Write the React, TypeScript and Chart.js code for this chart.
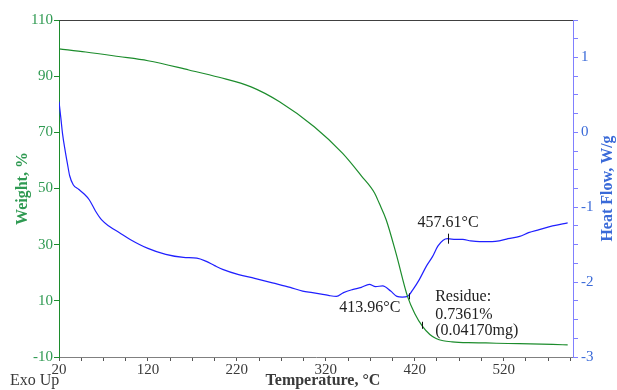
import React, { useEffect, useRef } from "react";
import { Chart, registerables } from "chart.js";
Chart.register(...registerables);

// Weight curve (TGA), temperature in °C vs weight in %
const weightT = [20, 50, 87, 120, 166, 200, 236, 268, 307, 339, 360, 375, 380, 388, 399, 412, 420, 429, 437, 444, 452, 462, 480, 500, 525, 550, 575, 592];
const weightPct = [99.7, 98.6, 97.0, 95.5, 92.2, 89.6, 86.2, 80.9, 72.0, 62.5, 54.5, 48.3, 44.8, 38.8, 26.9, 11.5, 5.5, 0.8, -2.0, -3.4, -4.2, -4.6, -4.9, -5.0, -5.2, -5.3, -5.5, -5.7];

// Heat flow curve (DSC), temperature in °C vs W/g
const heatT = [20, 22, 24, 27, 29.5, 32, 36, 42, 48, 54, 61, 68, 76, 88, 100, 120, 140, 160, 175, 185, 195, 204, 222, 240, 260, 280, 294, 305, 315, 324, 332, 340, 350, 360, 369, 376, 384, 393, 400, 406, 412, 418, 425, 433, 440, 446, 452, 457, 466, 474, 483, 493, 507, 515, 525, 538, 548, 560, 575, 592];
const heatFlow = [0.41, 0.2, -0.02, -0.25, -0.42, -0.58, -0.7, -0.76, -0.82, -0.9, -1.05, -1.17, -1.25, -1.34, -1.43, -1.55, -1.63, -1.67, -1.68, -1.72, -1.78, -1.83, -1.9, -1.95, -2.01, -2.07, -2.12, -2.14, -2.16, -2.18, -2.19, -2.14, -2.1, -2.07, -2.03, -2.06, -2.05, -2.12, -2.19, -2.2, -2.19, -2.1, -1.97, -1.79, -1.66, -1.52, -1.44, -1.42, -1.43, -1.43, -1.45, -1.46, -1.46, -1.45, -1.42, -1.39, -1.34, -1.3, -1.25, -1.21];

const xTickLabels = [20, 120, 220, 320, 420, 520];
const weightTicks = [-10, 10, 30, 50, 70, 90, 110];
const heatTickLabels = [-3, -2, -1, 0, 1];

const FONT = "'Liberation Serif', 'Times New Roman', serif";
const GREEN_LINE = "#1c8c2c";
const GREEN_TEXT = "#2f9a52";
const BLUE_LINE = "#2020ff";
const BLUE_AXIS = "#8080ff";
const BLUE_TEXT = "#3a6ad8";
const DARK = "#3a3a3a";

export default function App() {
  const ref = useRef<HTMLCanvasElement | null>(null);

  useEffect(() => {
    document.body.style.margin = "0";
    const canvas = ref.current!;
    const overlay = {
      id: "overlay",
      afterDraw(chart: any) {
        const { ctx, chartArea: a, scales } = chart;
        const x = scales.x, yW = scales.yW, yH = scales.yH;
        ctx.save();
        // top frame line
        ctx.strokeStyle = "#404040";
        ctx.lineWidth = 1;
        ctx.beginPath();
        ctx.moveTo(a.left, Math.round(a.top) + 0.5);
        ctx.lineTo(a.right, Math.round(a.top) + 0.5);
        ctx.stroke();

        // axis titles
        ctx.textAlign = "center";
        ctx.textBaseline = "middle";
        ctx.font = `bold 16px ${FONT}`;
        ctx.fillStyle = GREEN_TEXT;
        ctx.save();
        ctx.translate(23, (a.top + a.bottom) / 2);
        ctx.rotate(-Math.PI / 2);
        ctx.fillText("Weight, %", 0, 0);
        ctx.restore();
        ctx.fillStyle = BLUE_TEXT;
        ctx.save();
        ctx.translate(608, (a.top + a.bottom) / 2);
        ctx.rotate(-Math.PI / 2);
        ctx.fillText("Heat Flow, W/g", 0, 0);
        ctx.restore();
        ctx.fillStyle = DARK;
        ctx.fillText("Temperature, °C", (a.left + a.right) / 2 + 7, 381);
        ctx.font = `16px ${FONT}`;
        ctx.textAlign = "left";
        ctx.fillText("Exo Up", 10, 381);

        // annotations
        ctx.font = `16px ${FONT}`;
        ctx.fillStyle = "#222";
        ctx.textAlign = "center";
        ctx.fillText("457.61°C", x.getPixelForValue(457.61), yH.getPixelForValue(-1.207));
        ctx.fillText("413.96°C", x.getPixelForValue(369.5), yH.getPixelForValue(-2.34));
        ctx.textAlign = "left";
        const rx = x.getPixelForValue(443);
        ctx.fillText("Residue:", rx, yW.getPixelForValue(11.3));
        ctx.fillText("0.7361%", rx, yW.getPixelForValue(5.2));
        ctx.fillText("(0.04170mg)", rx, yW.getPixelForValue(-0.8));

        // marker ticks on curves
        ctx.strokeStyle = "#111";
        ctx.lineWidth = 1;
        const vt = (px: number, py: number, h: number) => {
          ctx.beginPath();
          ctx.moveTo(Math.round(px) + 0.5, py - h);
          ctx.lineTo(Math.round(px) + 0.5, py + h);
          ctx.stroke();
        };
        vt(x.getPixelForValue(457.61), yH.getPixelForValue(-1.42), 5);
        vt(x.getPixelForValue(413.96), yH.getPixelForValue(-2.19), 3);
        vt(x.getPixelForValue(428.5), yW.getPixelForValue(1.3), 3.5);
        ctx.restore();
      },
    };

    const chart = new Chart(canvas, {
      type: "line",
      data: {
        datasets: [
          {
            label: "Weight",
            data: weightT.map((t, i) => ({ x: t, y: weightPct[i] })),
            yAxisID: "yW",
            borderColor: GREEN_LINE,
            borderWidth: 1.2,
            pointRadius: 0,
            cubicInterpolationMode: "monotone",
          },
          {
            label: "Heat Flow",
            data: heatT.map((t, i) => ({ x: t, y: heatFlow[i] })),
            yAxisID: "yH",
            borderColor: BLUE_LINE,
            borderWidth: 1.2,
            pointRadius: 0,
            cubicInterpolationMode: "monotone",
          },
        ],
      },
      options: {
        animation: false,
        responsive: false,
        layout: { padding: { top: 20, left: 0, right: 0, bottom: 0 } },
        plugins: { legend: { display: false }, tooltip: { enabled: false } },
        scales: {
          x: {
            type: "linear",
            min: 20,
            max: 598,
            afterFit: (s: any) => { s.height = 33; },
            afterBuildTicks: (s: any) => {
              const t = [];
              for (let v = 20; v <= 595; v += 25) t.push({ value: v });
              s.ticks = t;
            },
            ticks: {
              autoSkip: false,
              maxRotation: 0,
              padding: 0,
              color: DARK,
              font: { family: FONT, size: 15 },
              callback: (v: any) => (xTickLabels.includes(Number(v)) ? String(v) : ""),
            },
            grid: { drawOnChartArea: false, drawTicks: true, tickLength: 4, color: "#555" },
            border: { color: "#808080", width: 1 },
          },
          yW: {
            type: "linear",
            position: "left",
            min: -10,
            max: 110,
            afterFit: (s: any) => { s.width = 59; },
            afterBuildTicks: (s: any) => { s.ticks = weightTicks.map((v) => ({ value: v })); },
            ticks: {
              padding: 1,
              color: GREEN_TEXT,
              font: { family: FONT, size: 15 },
            },
            grid: { drawOnChartArea: false, drawTicks: true, tickLength: 5, color: GREEN_LINE },
            border: { color: GREEN_LINE, width: 1 },
          },
          yH: {
            type: "linear",
            position: "right",
            min: -3,
            max: 1.5,
            afterFit: (s: any) => { s.width = 44; },
            afterBuildTicks: (s: any) => {
              const t = [];
              for (let i = 0; i <= 18; i++) t.push({ value: -3 + i * 0.25 });
              s.ticks = t;
            },
            ticks: {
              padding: 3,
              autoSkip: false,
              color: BLUE_TEXT,
              font: { family: FONT, size: 15 },
              callback: (v: any) => (heatTickLabels.includes(Number(v)) ? String(v) : ""),
            },
            grid: { drawOnChartArea: false, drawTicks: true, tickLength: 5, color: BLUE_AXIS },
            border: { color: BLUE_AXIS, width: 1 },
          },
        },
      },
      plugins: [overlay],
    } as any);
    return () => chart.destroy();
  }, []);

  return (
    <div style={{ position: "absolute", left: 0, top: 0, width: 617, height: 390, background: "#fff" }}>
      <canvas ref={ref} width={617} height={390} style={{ display: "block" }} />
    </div>
  );
}
